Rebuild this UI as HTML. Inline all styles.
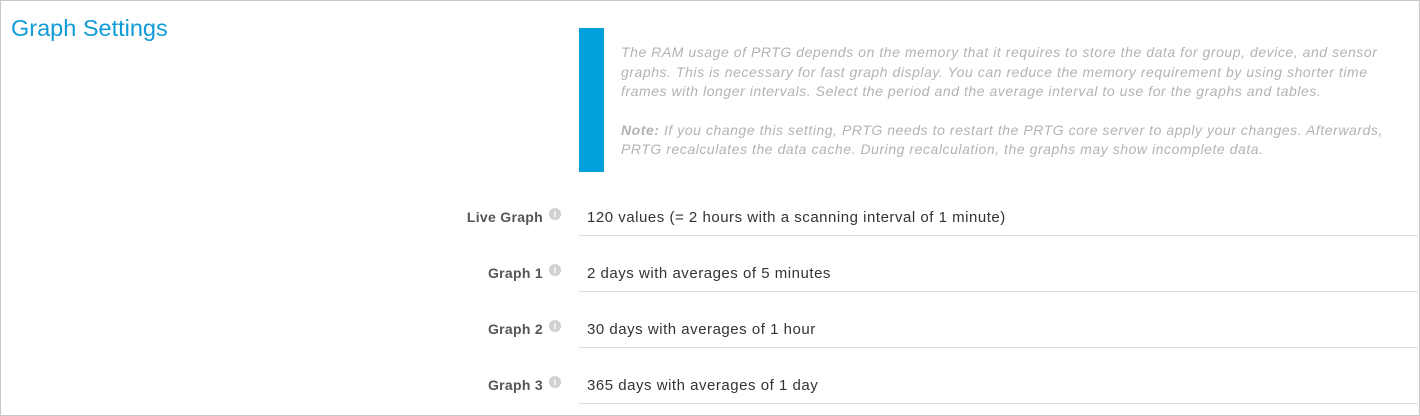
<!DOCTYPE html>
<html><head><style>
body{margin:0;width:1420px;height:416px;background:#fff;font-family:"Liberation Sans",sans-serif;position:relative;overflow:hidden}
.frame{position:absolute;left:0;top:0;width:1418px;height:414px;border:1px solid #c8c8c8}
h1{position:absolute;left:11px;top:15px;margin:0;font-weight:normal;font-size:23.5px;color:#109bd7}
.bar{position:absolute;left:579px;top:28px;width:25px;height:144px;background:#00a0dc}
.info{position:absolute;left:621px;top:43px;width:790px;font-style:italic;font-size:14px;letter-spacing:0.55px;line-height:19.6px;color:#b3b3b3}
.info p{margin:0 0 19px}
.lbl{position:absolute;right:877px;font-weight:bold;font-size:14px;letter-spacing:0.3px;color:#555;text-align:right}
.ic{position:absolute;left:549px;width:12px;height:12px;border-radius:50%;background:#d0d0d0;color:#fff;font-size:9px;font-weight:bold;text-align:center;line-height:12px}
.val{position:absolute;left:587px;font-size:15px;letter-spacing:0.52px;color:#333}
.ln{position:absolute;left:579px;width:839px;height:1px;background:#dcdcdc}
</style></head><body>
<div class="frame"></div>
<h1>Graph Settings</h1>
<div class="bar"></div>
<div class="info"><p>The RAM usage of PRTG depends on the memory that it requires to store the data for group, device, and sensor graphs. This is necessary for fast graph display. You can reduce the memory requirement by using shorter time frames with longer intervals. Select the period and the average interval to use for the graphs and tables.</p><p><b>Note:</b> If you change this setting, PRTG needs to restart the PRTG core server to apply your changes. Afterwards, PRTG recalculates the data cache. During recalculation, the graphs may show incomplete data.</p></div>

<div class="lbl" style="top:209px">Live Graph</div><div class="ic" style="top:208px">i</div>
<div class="val" style="top:209px">120 values (= 2 hours with a scanning interval of 1 minute)</div>
<div class="ln" style="top:235px"></div>

<div class="lbl" style="top:265px">Graph 1</div><div class="ic" style="top:264px">i</div>
<div class="val" style="top:265px">2 days with averages of 5 minutes</div>
<div class="ln" style="top:291px"></div>

<div class="lbl" style="top:321px">Graph 2</div><div class="ic" style="top:320px">i</div>
<div class="val" style="top:321px">30 days with averages of 1 hour</div>
<div class="ln" style="top:347px"></div>

<div class="lbl" style="top:377px">Graph 3</div><div class="ic" style="top:376px">i</div>
<div class="val" style="top:377px">365 days with averages of 1 day</div>
<div class="ln" style="top:403px"></div>
</body></html>
